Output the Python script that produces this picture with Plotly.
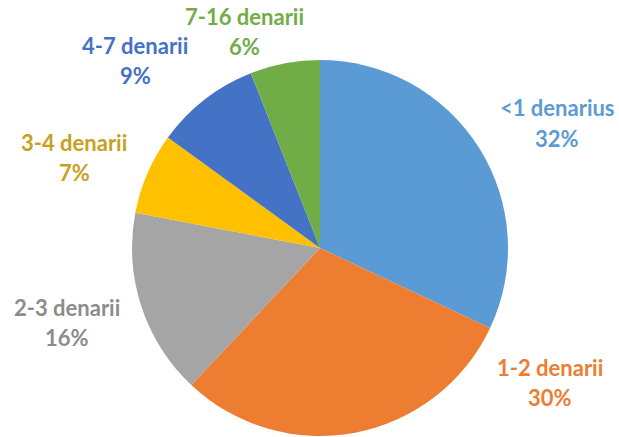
import plotly.graph_objects as go

# Share of coin hoards by total value
categories = ["<1 denarius", "1-2 denarii", "2-3 denarii", "3-4 denarii", "4-7 denarii", "7-16 denarii"]
shares = [32, 30, 16, 7, 9, 6]

slice_colors = ["#5B9BD5", "#ED7D31", "#A5A5A5", "#FFC000", "#4472C4", "#70AD47"]
text_colors = ["#5B9BD5", "#ED7D31", "#8C8C8C", "#C9A01C", "#4472C4", "#70AD47"]

W, H = 619, 437

# label anchor points in pixels (centre of the category line)
label_xy = [(557, 108), (550, 367), (67, 307), (74, 143), (135, 45), (244, 17)]
line_gap = 30

fig = go.Figure(
    go.Pie(
        labels=categories,
        values=shares,
        sort=False,
        direction="clockwise",
        rotation=0,
        marker=dict(colors=slice_colors, line=dict(width=0)),
        textinfo="none",
        hoverinfo="label+percent",
        domain=dict(x=[132 / W, 508 / W], y=[1 - 436 / H, 1 - 60 / H]),
        showlegend=False,
    )
)

font_family = "Lato, 'Open Sans', sans-serif"
for cat, val, col, (px, py) in zip(categories, shares, text_colors, label_xy):
    for txt, yy in ((f"<b>{cat}</b>", py), (f"<b>{val}%</b>", py + line_gap)):
        fig.add_annotation(
            text=txt,
            x=px / W,
            y=1 - yy / H,
            xref="paper",
            yref="paper",
            xanchor="center",
            yanchor="middle",
            showarrow=False,
            font=dict(family=font_family, size=22, color=col),
        )

fig.update_layout(
    width=W,
    height=H,
    margin=dict(l=0, r=0, t=0, b=0),
    paper_bgcolor="white",
    plot_bgcolor="white",
)

fig.write_html("out.html")
